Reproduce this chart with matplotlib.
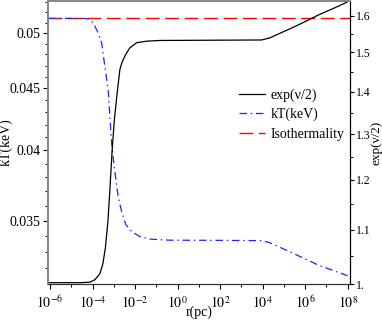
import numpy as np
import matplotlib
matplotlib.use("Agg")
import matplotlib.pyplot as plt
from matplotlib.ticker import FixedLocator, FixedFormatter, NullFormatter, FuncFormatter

plt.rcParams['font.family'] = ['Liberation Serif', 'DejaVu Serif']
plt.rcParams['mathtext.fontset'] = 'stix'
plt.rcParams['font.size'] = 10

# ---------------- data ----------------
# kT(keV) profile, left axis  (log10 r, kT)
kt_logr = [-6.08, -4.6, -4.44, -4.20, -3.967, -3.732, -3.573, -3.418, -3.263,
           -3.183, -3.103, -2.981, -2.793, -2.620, -2.432, -2.150, -1.775,
           -1.305, -0.366, 1.98, 3.953, 4.329, 4.798, 5.268, 5.972, 6.676,
           7.225, 7.99]
kt_val = [0.0514, 0.0514, 0.0514, 0.05134, 0.05096, 0.0500, 0.04909, 0.04690,
          0.04490, 0.04265, 0.04059, 0.03878, 0.03664, 0.03554, 0.03474,
          0.03428, 0.03396, 0.03380, 0.03373, 0.03372, 0.03370, 0.03357,
          0.03329, 0.03300, 0.03257, 0.03214, 0.03189, 0.03153]

# exp(nu/2), right axis  (log10 r, value)
ex_logr = [-6.08, -4.59, -4.12, -3.887, -3.653, -3.512, -3.394, -3.277, -3.183,
           -3.075, -2.972, -2.854, -2.714, -2.60, -2.479, -2.36, -2.244, -1.930,
           -1.460, -0.836, 3.953, 4.329, 4.798, 5.268, 5.972, 6.676, 7.38, 7.99]
ex_val = [1.0023, 1.0023, 1.0032, 1.0076, 1.0182, 1.0362, 1.0657, 1.1153,
          1.1797, 1.2655, 1.3337, 1.3910, 1.4558, 1.4760, 1.4901, 1.5020,
          1.5122, 1.5256, 1.5299, 1.5318, 1.5331, 1.5385, 1.5507, 1.5630,
          1.5823, 1.6032, 1.6216, 1.6388]

iso_kt = 0.0514

xlim_log = (-6.08, 8.108)
kt_lim = (0.03102, 0.05313)
ex_lim = (0.9995, 1.6415)

kt_ticks = [0.035, 0.04, 0.045, 0.05]
kt_labels = ["0.035", "0.04", "0.045", "0.05"]
ex_ticks = [1.0, 1.1, 1.2, 1.3, 1.4, 1.5, 1.6]
ex_labels = ["1.", "1.1", "1.2", "1.3", "1.4", "1.5", "1.6"]

# ---------------- figure ----------------
fig = plt.figure(figsize=(3.82, 3.20), dpi=100)
ax = fig.add_axes([0.1264, 0.1116, 0.7898, 0.8854])
ax2 = ax.twinx()

r_kt = 10.0 ** np.array(kt_logr)
r_ex = 10.0 ** np.array(ex_logr)

l_iso, = ax.plot([10 ** xlim_log[0], 10 ** xlim_log[1]], [iso_kt, iso_kt],
                 color="#ff0000", lw=1.0, ls=(0, (10, 4)), label="Isothermality")
l_kt, = ax.plot(r_kt, kt_val, color="#2222ff", lw=0.9, ls=(0, (6, 3, 1.2, 3)),
                label="kT(keV)")
l_ex, = ax2.plot(r_ex, ex_val, color="black", lw=0.9, label="exp(\u03bd/2)")

ax.set_xscale("log")
ax.set_yscale("log")
ax2.set_yscale("log")
ax.set_xlim(10 ** xlim_log[0], 10 ** xlim_log[1])
ax.set_ylim(*kt_lim)
ax2.set_ylim(*ex_lim)

# x ticks
ax.xaxis.set_major_locator(FixedLocator([10.0 ** k for k in range(-6, 9, 2)]))
ax.xaxis.set_minor_locator(FixedLocator([10.0 ** k for k in range(-5, 8, 2)]))
ax.xaxis.set_major_formatter(FuncFormatter(lambda v, p: r"$10^{%d}$" % round(np.log10(v))))
ax.xaxis.set_minor_formatter(NullFormatter())

# left y ticks
ax.yaxis.set_major_locator(FixedLocator(kt_ticks))
ax.yaxis.set_major_formatter(FixedFormatter(kt_labels))
ax.yaxis.set_minor_locator(FixedLocator([k / 1000 for k in range(31, 54)]))
ax.yaxis.set_minor_formatter(NullFormatter())

# right y ticks
ax2.yaxis.set_major_locator(FixedLocator(ex_ticks))
ax2.yaxis.set_major_formatter(FixedFormatter(ex_labels))
ax2.yaxis.set_minor_locator(FixedLocator([1.05, 1.15, 1.25, 1.35, 1.45, 1.55]))
ax2.yaxis.set_minor_formatter(NullFormatter())

for a in (ax, ax2):
    a.tick_params(which="major", direction="out", length=3.5, width=0.8, pad=2)
    a.tick_params(which="minor", direction="out", length=2, width=0.7)
ax.tick_params(axis="x", which="both", top=False, pad=4)
ax2.tick_params(axis="y", which="major", length=3, pad=1, labelsize=8.5)

for a in (ax, ax2):
    a.spines["top"].set_color("#888888")
    a.spines["top"].set_linewidth(1.4)
    a.spines["left"].set_color("#888888")
    a.spines["left"].set_linewidth(1.4)
    a.spines["bottom"].set_color("#333333")
    a.spines["right"].set_color("black")

ax.set_xlabel("r(pc)")
ax.xaxis.set_label_coords(0.5, -0.076)
ax.set_ylabel("kT(keV)")
ax.yaxis.set_label_coords(-0.118, 0.5)
ax2.set_ylabel("exp(\u03bd/2)", fontsize=9.5)
ax2.yaxis.set_label_coords(1.069, 0.5)

ax.legend([l_ex, l_kt, l_iso], ["exp(\u03bd/2)", "kT(keV)", "Isothermality"],
          loc="center left", bbox_to_anchor=(0.6, 0.6), frameon=False,
          handlelength=1.9, handletextpad=0.4, labelspacing=0.45, borderpad=0.2)

fig.savefig("out.png", dpi=100)
